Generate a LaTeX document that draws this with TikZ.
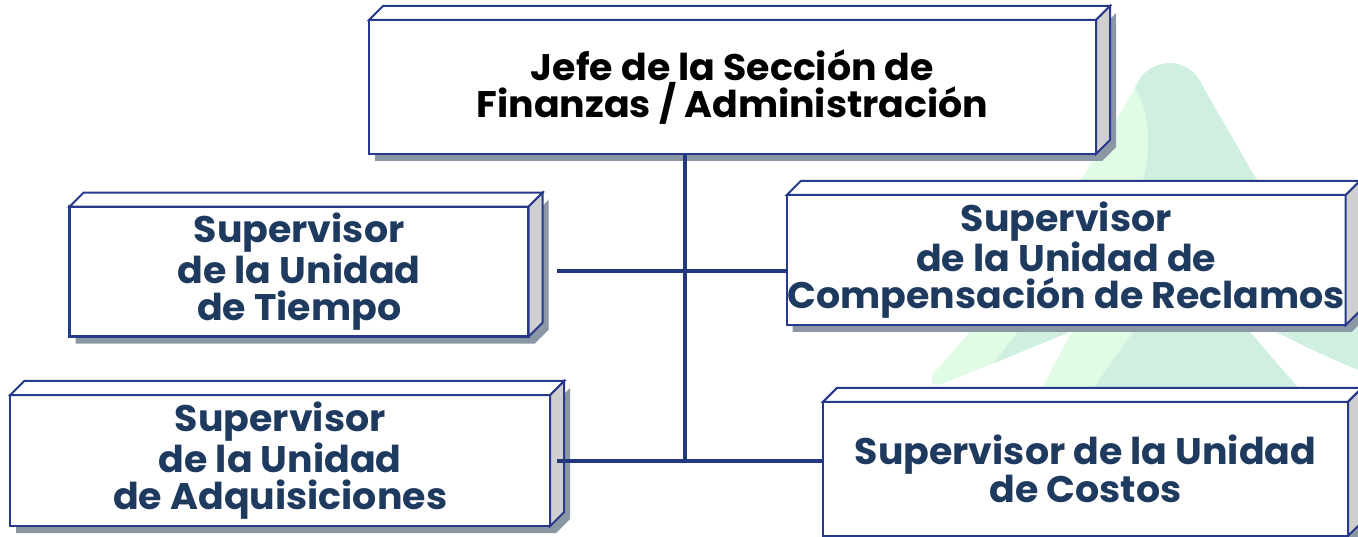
\documentclass[tikz,border=0pt]{standalone}
\usepackage{fontspec}
\setmainfont{Poppins}[FakeStretch=1.025]
\usetikzlibrary{calc}
\definecolor{navy}{HTML}{26398A}
\definecolor{txtnavy}{HTML}{1F3A5F}
\definecolor{sidegrey}{HTML}{CFCFCF}
\definecolor{shadowc}{HTML}{8C97A6}
\definecolor{lightg}{HTML}{E0FCE4}
\definecolor{darkg}{HTML}{CFF0E0}
\definecolor{linec}{HTML}{24387F}
\pgfdeclarelayer{wm}
\pgfdeclarelayer{bg}
\pgfsetlayers{wm,bg,main}
\def\cubd{14}
\tikzset{
  orgbox/.style={rectangle, draw=navy, line width=2.4pt, fill=white, inner sep=0pt, outer sep=0pt,
    align=center, text=txtnavy, font=\bfseries\fontsize{37}{36.8}\selectfont},
  face/.style={draw=navy, line width=2pt, line join=miter},
  conn/.style={draw=linec, line width=4pt}
}
\newcommand\prismfaces[1]{%
  \begin{pgfonlayer}{bg}
  \fill[shadowc] ($(#1.north west)+(6,7)$) -- ($(#1.north east)+(6,7)$) -- ($(#1.north east)+(6+\cubd,7-\cubd)$)
     -- ($(#1.south east)+(6+\cubd,7-\cubd)$) -- ($(#1.south east)+(6,7)$) -- ($(#1.south west)+(6,7)$) -- cycle;
  \end{pgfonlayer}
  \filldraw[face, fill=white] (#1.north west) -- ++(\cubd,-\cubd) -- ($(#1.north east)+(\cubd,-\cubd)$) -- (#1.north east) -- cycle;
  \filldraw[face, fill=sidegrey] (#1.north east) -- ++(\cubd,-\cubd) -- ($(#1.south east)+(\cubd,-\cubd)$) -- (#1.south east) -- cycle;
}
\begin{document}
\begin{tikzpicture}[x=1pt, y=-1pt]
\useasboundingbox (0,0) rectangle (1358,537);
\begin{pgfonlayer}{wm}
  \fill[white] (0,0) rectangle (1358,537);
  % watermark logo
  \fill[lightg] (1135,88) -- (1083,177) .. controls (1030,255) .. (969,333) -- (934,373)
     .. controls (928,382) and (934,387) .. (942,384) -- (1072,331) -- (1036,400) -- (1400,400) -- (1400,360)
     -- (1255,177) -- (1203,87) .. controls (1190,55) and (1148,55) .. (1135,88) -- cycle;
  \fill[darkg] (1135,88) .. controls (1152,115) and (1152,160) .. (1138,195) -- (1133,332) -- (1085,400)
     -- (1400,400) -- (1400,360) -- (1255,177) -- (1203,87) .. controls (1190,55) and (1148,55) .. (1135,88) -- cycle;
  \fill[darkg] (994,363) -- (1025,322) -- (1085,322) -- (1072,331) -- cycle;
  \fill[white] (1245,326) -- (1309,400) -- (1400,400) -- (1400,385) .. controls (1330,362) and (1295,340) .. (1262,326) -- cycle;
\end{pgfonlayer}

\node[orgbox, text=black, minimum width=727pt, minimum height=134pt] (jefe) at (732.5,87)
  {Jefe de la Sección de\\Finanzas / Administración};
\prismfaces{jefe}
\node[orgbox, minimum width=459pt, minimum height=130pt] (tiempo) at (299.1,271.7)
  {Supervisor\\de la Unidad\\de Tiempo};
\prismfaces{tiempo}
\node[orgbox, minimum width=559pt, minimum height=130pt] (comp) at (1066.2,260)
  {Supervisor\\de la Unidad de\\Compensación de Reclamos};
\prismfaces{comp}
\node[orgbox, minimum width=540pt, minimum height=131pt] (adq) at (280.2,460.5)
  {Supervisor\\de la Unidad\\de Adquisiciones};
\prismfaces{adq}
\node[orgbox, minimum width=525pt, minimum height=134pt] (costos) at (1085.5,468.9)
  {Supervisor de la Unidad\\de Costos};
\prismfaces{costos}

\coordinate (trunk) at (684.5,461);
\coordinate (upl) at (557,270.7);
\coordinate (lowl) at (557,461);
\draw[conn] (jefe.south -| trunk) -- (trunk);
\draw[conn] (upl) -- (upl -| comp.west);
\draw[conn] (lowl) -- (lowl -| costos.west);
\end{tikzpicture}
\end{document}
